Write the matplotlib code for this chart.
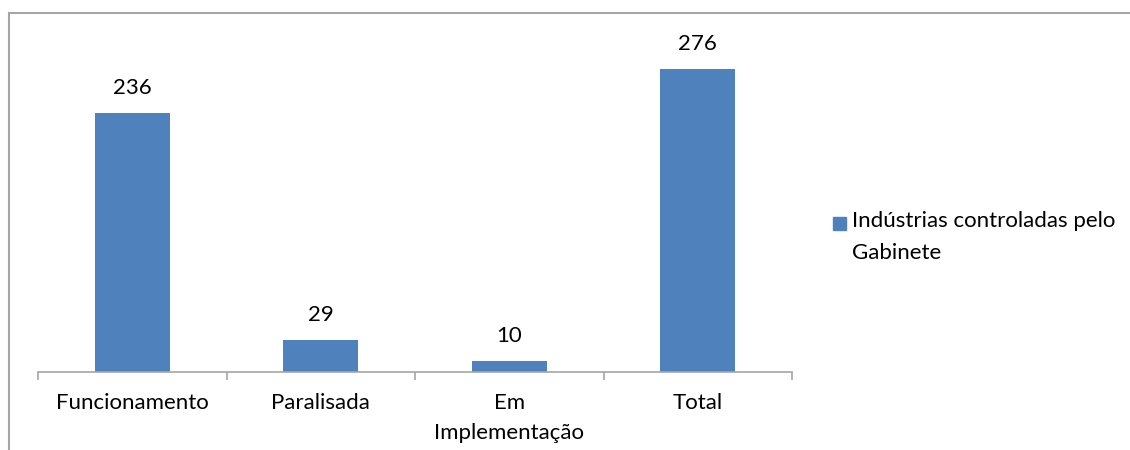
from matplotlib import pyplot as plt
from matplotlib.patches import Rectangle
from matplotlib.lines import Line2D

categories = ["Funcionamento", "Paralisada", "Em\nImplementação", "Total"]
values = [236, 29, 10, 276]
series_name = "Indústrias controladas pelo\nGabinete"

bar_color = "#4F81BD"
grid_gray = "#A6A6A6"
plt.rcParams['font.family'] = ['Lato', 'DejaVu Sans']

fig = plt.figure(figsize=(11.3, 4.5), dpi=100)
ax = fig.add_axes([38 / 1130, 78 / 450, (792 - 38) / 1130, (372 - 43) / 450])

x = range(len(categories))
bars = ax.bar(x, values, width=0.4, color=bar_color)
for b, v in zip(bars, values):
    ax.text(b.get_x() + b.get_width() / 2, v + 14, str(v),
            ha="center", va="bottom", fontsize=16)

ax.set_xlim(-0.5, len(categories) - 0.5)
ax.set_ylim(0, 300)
ax.set_yticks([])
ax.set_xticks(x)
ax.set_xticklabels(categories, fontsize=16, linespacing=1.65, va="top")
ax.tick_params(axis="x", length=0, pad=15)
# tick marks between categories, like excel
ax.set_xticks([i - 0.5 for i in range(len(categories) + 1)], minor=True)
ax.tick_params(axis="x", which="minor", length=6, color=grid_gray, width=1.2)
for s in ["top", "right", "left"]:
    ax.spines[s].set_visible(False)
ax.spines["bottom"].set_color(grid_gray)
ax.spines["bottom"].set_linewidth(1.2)

# outer chart border (only top and left are visible in the picture)
fig.add_artist(Line2D([9 / 1130, 1], [1 - 13 / 450] * 2, color=grid_gray, lw=1.5))
fig.add_artist(Line2D([9 / 1130] * 2, [0, 1 - 13 / 450], color=grid_gray, lw=1.5))

# legend drawn by hand so the swatch sits next to the first line
fig.add_artist(Rectangle((833 / 1130, 1 - 230 / 450), 13 / 1130, 13 / 450,
                         color=bar_color, transform=fig.transFigure))
fig.text(852 / 1130, 1 - 211 / 450, series_name, fontsize=16,
         va="top", ha="left", linespacing=1.75)

fig.savefig("out.png", dpi=100)
